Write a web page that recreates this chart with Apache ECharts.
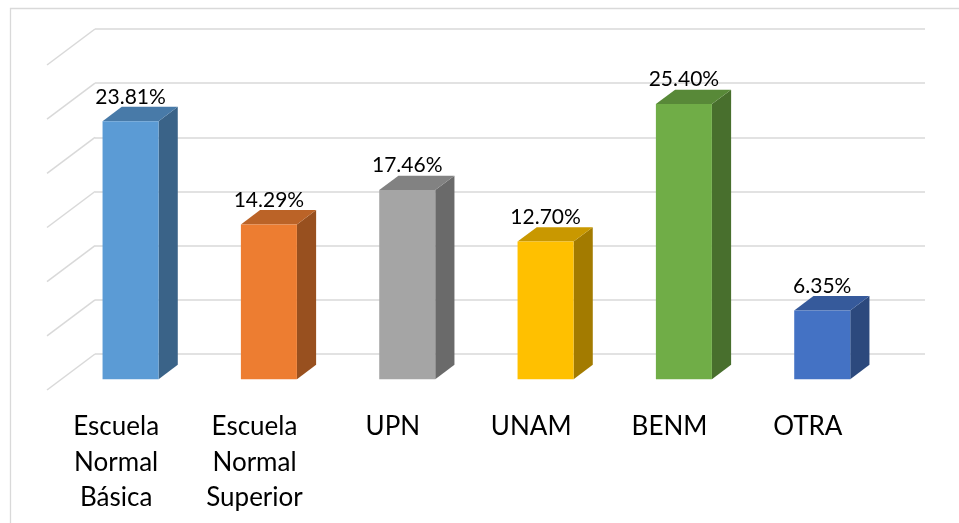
<!DOCTYPE html>
<html>
<head>
<meta charset="utf-8">
<script src="https://cdn.jsdelivr.net/npm/echarts@6/dist/echarts.min.js"></script>
<style>
  html, body { margin: 0; padding: 0; background: #ffffff; }
  #chart { width: 959px; height: 523px; }
</style>
</head>
<body>
<div id="chart"></div>
<script>
// Institutions and their share of respondents (%)
const categories = ['Escuela Normal Básica', 'Escuela Normal Superior', 'UPN', 'UNAM', 'BENM', 'OTRA'];
const shares = [23.81, 14.29, 17.46, 12.70, 25.40, 6.35];
const barColors = ['#5B9BD5', '#ED7D31', '#A5A5A5', '#FFC000', '#70AD47', '#4472C4'];
// Value levels where the wall gridlines sit
const wallValues = [0, 5, 10, 15, 20, 25, 30];

// Oblique projection of the chart's depth axis
const DEPTH_X = 48, DEPTH_Y = -36;
const BAR_FRONT = 0.3, BAR_DEPTH = 0.4, BAR_WIDTH = 0.405;

function shade(hex, f) {
  const n = parseInt(hex.slice(1), 16);
  const r = Math.round(((n >> 16) & 255) * f);
  const g = Math.round(((n >> 8) & 255) * f);
  const b = Math.round((n & 255) * f);
  return 'rgb(' + r + ',' + g + ',' + b + ')';
}

const chart = echarts.init(document.getElementById('chart'));

const option = {
  backgroundColor: '#ffffff',
  animation: false,
  graphic: [{
    type: 'rect',
    shape: { x: 10.5, y: 8.5, width: 1000, height: 600 },
    style: { fill: 'none', stroke: '#d9d9d9', lineWidth: 1.3 },
    silent: true
  }],
  grid: [
    { left: 47, top: 65, width: 830, height: 325 },   // front plane
    { left: 95, top: 29, width: 830, height: 325 }    // back wall
  ],
  xAxis: [
    {
      type: 'category', gridIndex: 0, data: categories,
      axisLine: { show: false }, axisTick: { show: false },
      axisLabel: {
        interval: 0, margin: 19,
        formatter: v => v.split(' ').join('\n'),
        fontFamily: 'Lato', fontSize: 26, color: '#000000', lineHeight: 35.5
      },
      splitLine: { show: false }
    },
    { type: 'category', gridIndex: 1, data: categories, show: false }
  ],
  yAxis: [
    { type: 'value', gridIndex: 0, min: 0, max: 30, interval: 5, show: false },
    {
      type: 'value', gridIndex: 1, min: 0, max: 30, interval: 5,
      axisLine: { show: false }, axisTick: { show: false }, axisLabel: { show: false },
      splitLine: { show: true, lineStyle: { color: '#d9d9d9', width: 1.5 } }
    }
  ],
  series: [
    {
      // side wall gridlines running from the front plane to the back wall
      type: 'custom', xAxisIndex: 0, yAxisIndex: 0, silent: true,
      data: wallValues.map(v => [0, v]),
      renderItem: function (params, api) {
        const y = api.coord([0, api.value(1)])[1];
        const x = params.coordSys.x;
        return {
          type: 'line',
          shape: { x1: x, y1: y, x2: x + DEPTH_X, y2: y + DEPTH_Y },
          style: { stroke: '#d9d9d9', lineWidth: 1.5 }
        };
      }
    },
    {
      type: 'custom', xAxisIndex: 0, yAxisIndex: 0, silent: true,
      data: shares.map((v, i) => [i, v]),
      renderItem: function (params, api) {
        const i = api.value(0), v = api.value(1);
        const top = api.coord([i, v]);
        const base = api.coord([i, 0]);
        const band = api.size([1, 0])[0];
        const w = band * BAR_WIDTH;
        const ox = DEPTH_X * BAR_FRONT, oy = DEPTH_Y * BAR_FRONT;
        const dx = DEPTH_X * BAR_DEPTH, dy = DEPTH_Y * BAR_DEPTH;
        const cx = top[0] + ox;
        const x0 = cx - w / 2, x1 = cx + w / 2;
        const yt = top[1] + oy, yb = base[1] + oy;
        const c = barColors[i];
        return {
          type: 'group',
          children: [
            {
              type: 'polygon',
              shape: { points: [[x1, yt], [x1, yb], [x1 + dx, yb + dy], [x1 + dx, yt + dy]] },
              style: { fill: shade(c, 0.64) }
            },
            {
              type: 'polygon',
              shape: { points: [[x0, yt], [x1, yt], [x1 + dx, yt + dy], [x0 + dx, yt + dy]] },
              style: { fill: shade(c, 0.79) }
            },
            {
              type: 'rect',
              shape: { x: x0, y: yt, width: w, height: yb - yt },
              style: { fill: c }
            },
            {
              type: 'text',
              x: cx, y: yt + dy + 0.5,
              style: {
                text: v.toFixed(2) + '%',
                fill: '#000000', fontFamily: 'Lato', fontSize: 21,
                align: 'center', verticalAlign: 'bottom'
              }
            }
          ]
        };
      }
    }
  ]
};

chart.setOption(option);
</script>
</body>
</html>
